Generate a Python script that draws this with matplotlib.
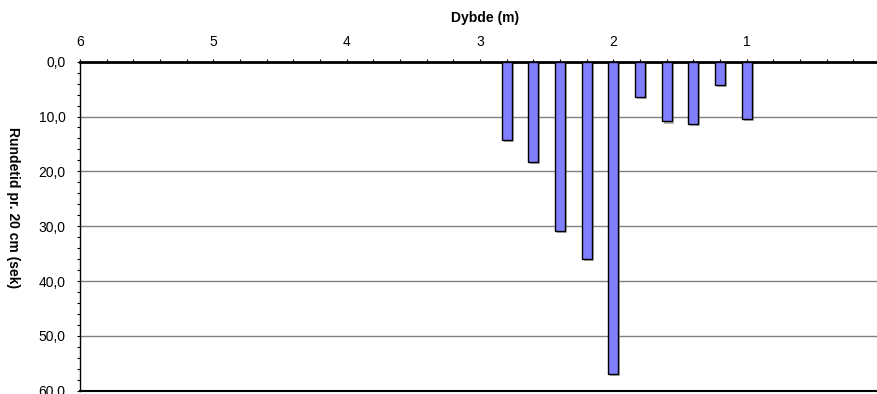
import numpy as np
import matplotlib
matplotlib.use('Agg')
import matplotlib.pyplot as plt
import matplotlib.patheffects as pe
from matplotlib.ticker import MultipleLocator, FuncFormatter

plt.rcParams['font.family'] = ['Liberation Sans', 'DejaVu Sans']

# dybde (m) og rundetid pr. 20 cm (sek)
dybde = [2.8, 2.6, 2.4, 2.2, 2.0, 1.8, 1.6, 1.4, 1.2, 1.0]
rundetid = [14.2, 18.3, 30.8, 36.0, 56.9, 6.5, 10.9, 11.4, 4.3, 10.5]
x_ticks = [6, 5, 4, 3, 2, 1, 0]
y_ticks = [0, 10, 20, 30, 40, 50, 60]

fig = plt.figure(figsize=(8.78, 3.94), dpi=100)
ax = fig.add_axes([80/878, 1 - 390.7/394, 800/878, 329/394])

bars = ax.bar(dybde, rundetid, width=0.075, color='#8080ff', edgecolor='black',
              linewidth=1.0, zorder=3)
for b in bars:
    b.set_path_effects([pe.SimplePatchShadow(offset=(1.5, -1.5), shadow_rgbFace='#808080', alpha=0.6),
                        pe.Normal()])

ax.set_xlim(6, 0)
ax.set_ylim(60, 0)

ax.set_xticks(x_ticks)
ax.xaxis.set_minor_locator(MultipleLocator(0.2))
ax.set_yticks(y_ticks)
ax.yaxis.set_minor_locator(MultipleLocator(2))
ax.yaxis.set_major_formatter(FuncFormatter(lambda v, p: f"{v:.1f}".replace('.', ',')))

ax.xaxis.tick_top()
ax.tick_params(axis='x', which='both', direction='out', length=2.5, width=0.8,
               pad=7, labelsize=10, top=True, bottom=False)
ax.tick_params(axis='y', which='both', direction='out', length=2.5, width=0.8,
               pad=8, labelsize=10)

ax.grid(axis='y', which='major', color='#808080', linewidth=1.0, zorder=0)
ax.set_axisbelow(True)

ax.spines['top'].set_linewidth(2.0)
ax.spines['left'].set_linewidth(1.0)
ax.spines['bottom'].set_linewidth(1.5)
ax.spines['right'].set_visible(False)

fig.text(485/878, 1 - 18/394, 'Dybde (m)', ha='center', va='center',
         fontsize=10, fontweight='bold')
fig.text(13/878, 1 - 208/394, 'Rundetid pr. 20 cm (sek)', ha='center', va='center',
         rotation=270, fontsize=10, fontweight='bold')

fig.savefig('out.png', dpi=100)
